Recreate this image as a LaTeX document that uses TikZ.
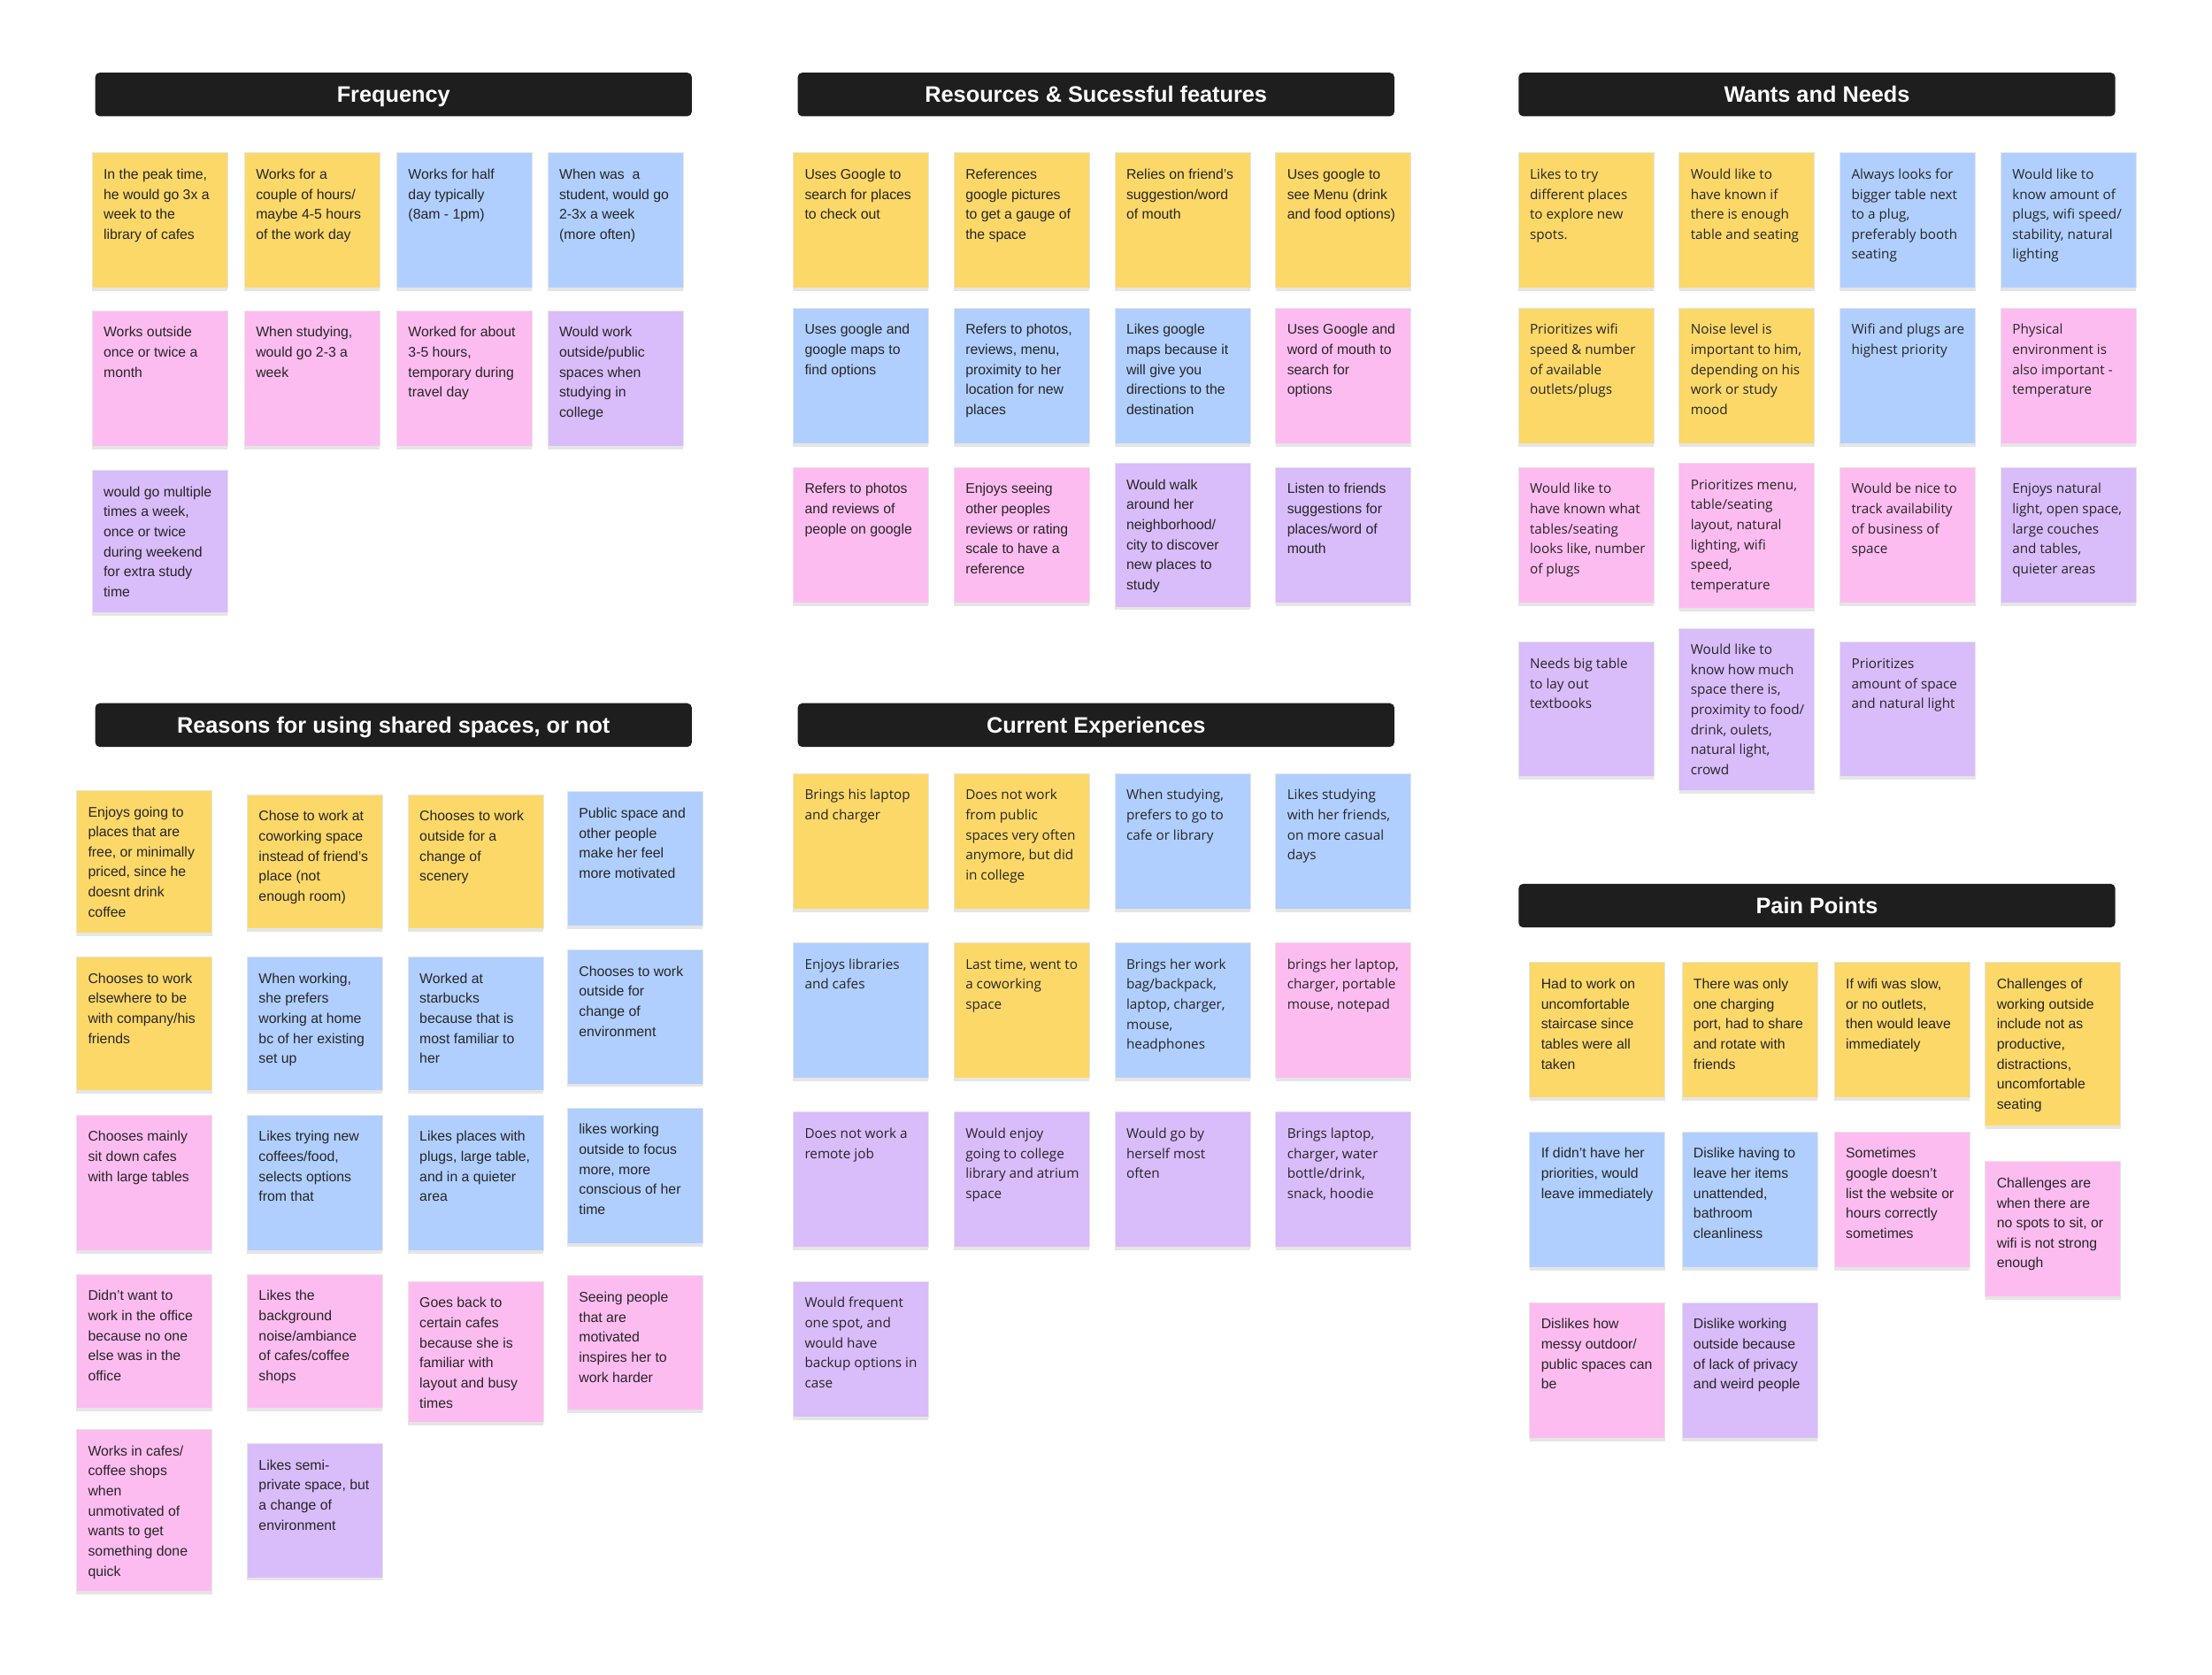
\documentclass[tikz,border=0pt]{standalone}
\usepackage{fontspec}
\setmainfont{Liberation Sans}
\newfontfamily\wfont{Open Sans}
\usetikzlibrary{shadows}
\definecolor{yel}{RGB}{252,216,105}
\definecolor{blu}{RGB}{176,207,254}
\definecolor{pnk}{RGB}{253,188,240}
\definecolor{pur}{RGB}{217,188,250}
\definecolor{hdrc}{RGB}{30,30,30}
\newcommand\pxu{0.015944cm}
\newcommand\stkf{\fontsize{4.5}{6.44}\selectfont}
\newcommand\hdrf{\fontsize{7.2}{8}\selectfont\bfseries}
\tikzset{
  stkbox/.style={anchor=north west, inner sep=0pt, minimum width=96*\pxu, draw=black!10, line width=0.2pt,
    drop shadow={shadow xshift=0pt, shadow yshift=-1.0pt, opacity=0.10, fill=black}},
  stktext/.style={anchor=north west, inner sep=0pt, align=left, text=black!85, font=\stkf},
  hdrbox/.style={anchor=north west, fill=hdrc, rounded corners=1.5pt, minimum width=423*\pxu, minimum height=31*\pxu,
    inner sep=0pt, text=white, font=\hdrf, text height=5.9pt, text depth=1.0pt}
}
\newcommand\stk[6]{%
  \node[stkbox, fill=#5, minimum height=#4*\pxu] (#1) at (#2,#3) {};
  \node[stktext] (#1t) at ([xshift=8*\pxu, yshift=-11*\pxu]#1.north west) {\rule{0pt}{3.4pt}#6};}
\begin{document}
\begin{tikzpicture}[x=\pxu, y=-\pxu]
\useasboundingbox[fill=white] (0,0) rectangle (1568,1187);

% Headers
\node[hdrbox] (hfreq) at (67,51) {Frequency};
\node[hdrbox] (hres) at (565,51) {Resources \& Sucessful features};
\node[hdrbox] (hwant) at (1076,51) {Wants and Needs};
\node[hdrbox] (hreas) at (67,498) {Reasons for using shared spaces, or not};
\node[hdrbox] (hcur) at (565,498) {Current Experiences};
\node[hdrbox] (hpain) at (1076,626) {Pain Points};

% Frequency
\stk{f1}{65}{108}{96}{yel}{In the peak time,\\he would go 3x a\\week to the\\library of cafes}
\stk{f2}{173}{108}{96}{yel}{Works for a\\couple of hours/\\maybe 4-5 hours\\of the work day}
\stk{f3}{281}{108}{96}{blu}{Works for half\\day typically\\(8am - 1pm)}
\stk{f4}{388}{108}{96}{blu}{When was \ a\\student, would go\\2-3x a week\\(more often)}
\stk{f5}{65}{220}{96}{pnk}{Works outside\\once or twice a\\month}
\stk{f6}{173}{220}{96}{pnk}{When studying,\\would go 2-3 a\\week}
\stk{f7}{281}{220}{96}{pnk}{Worked for about\\3-5 hours,\\temporary during\\travel day}
\stk{f8}{388}{220}{96}{pur}{Would work\\outside/public\\spaces when\\studying in\\college}
\stk{f9}{65}{333}{101}{pur}{would go multiple\\times a week,\\once or twice\\during weekend\\for extra study\\time}

% Resources
\stk{r1}{562}{108}{96}{yel}{Uses Google to\\search for places\\to check out}
\stk{r2}{676}{108}{96}{yel}{References\\google pictures\\to get a gauge of\\the space}
\stk{r3}{790}{108}{96}{yel}{Relies on friend’s\\suggestion/word\\of mouth}
\stk{r4}{904}{108}{96}{yel}{Uses google to\\see Menu (drink\\and food options)}
\stk{r5}{562}{218}{96}{blu}{Uses google and\\google maps to\\find options}
\stk{r6}{676}{218}{96}{blu}{Refers to photos,\\reviews, menu,\\proximity to her\\location for new\\places}
\stk{r7}{790}{218}{96}{blu}{Likes google\\maps because it\\will give you\\directions to the\\destination}
\stk{r8}{904}{218}{96}{pnk}{Uses Google and\\word of mouth to\\search for\\options}
\stk{r9}{562}{331}{96}{pnk}{Refers to photos\\and reviews of\\people on google}
\stk{r10}{676}{331}{96}{pnk}{Enjoys seeing\\other peoples\\reviews or rating\\scale to have a\\reference}
\stk{r11}{790}{328}{102}{pur}{Would walk\\around her\\neighborhood/\\city to discover\\new places to\\study}
\stk{r12}{904}{331}{96}{pur}{Listen to friends\\suggestions for\\places/word of\\mouth}

% Reasons
\stk{s1}{54}{560}{101}{yel}{Enjoys going to\\places that are\\free, or minimally\\priced, since he\\doesnt drink\\coffee}
\stk{s2}{175}{563}{95}{yel}{Chose to work at\\coworking space\\instead of friend’s\\place (not\\enough room)}
\stk{s3}{289}{563}{95}{yel}{Chooses to work\\outside for a\\change of\\scenery}
\stk{s4}{402}{561}{95}{blu}{Public space and\\other people\\make her feel\\more motivated}
\stk{s5}{54}{678}{95}{yel}{Chooses to work\\elsewhere to be\\with company/his\\friends}
\stk{s6}{175}{678}{95}{blu}{When working,\\she prefers\\working at home\\bc of her existing\\set up}
\stk{s7}{289}{678}{95}{blu}{Worked at\\starbucks\\because that is\\most familiar to\\her}
\stk{s8}{402}{673}{95}{blu}{Chooses to work\\outside for\\change of\\environment}
\stk{s9}{54}{790}{96}{pnk}{Chooses mainly\\sit down cafes\\with large tables}
\stk{s10}{175}{790}{96}{blu}{Likes trying new\\coffees/food,\\selects options\\from that}
\stk{s11}{289}{790}{96}{blu}{Likes places with\\plugs, large table,\\and in a quieter\\area}
\stk{s12}{402}{785}{96}{blu}{likes working\\outside to focus\\more, more\\conscious of her\\time}
\stk{s13}{54}{903}{95}{pnk}{Didn’t want to\\work in the office\\because no one\\else was in the\\office}
\stk{s14}{175}{903}{95}{pnk}{Likes the\\background\\noise/ambiance\\of cafes/coffee\\shops}
\stk{s15}{289}{908}{100}{pnk}{Goes back to\\certain cafes\\because she is\\familiar with\\layout and busy\\times}
\stk{s16}{402}{904}{95}{pnk}{Seeing people\\that are\\motivated\\inspires her to\\work harder}
\stk{s17}{54}{1013}{115}{pnk}{Works in cafes/\\coffee shops\\when\\unmotivated of\\wants to get\\something done\\quick}
\stk{s18}{175}{1023}{95}{pur}{Likes semi-\\private space, but\\a change of\\environment}

% Pain points
\stk{p1}{1084}{682}{96}{yel}{Had to work on\\uncomfortable\\staircase since\\tables were all\\taken}
\stk{p2}{1192}{682}{96}{yel}{There was only\\one charging\\port, had to share\\and rotate with\\friends}
\stk{p3}{1300}{682}{96}{yel}{If wifi was slow,\\or no outlets,\\then would leave\\immediately}
\stk{p4}{1407}{682}{116}{yel}{Challenges of\\working outside\\include not as\\productive,\\distractions,\\uncomfortable\\seating}
\stk{p5}{1084}{802}{96}{blu}{If didn’t have her\\priorities, would\\leave immediately}
\stk{p6}{1192}{802}{96}{blu}{Dislike having to\\leave her items\\unattended,\\bathroom\\cleanliness}
\stk{p7}{1300}{802}{96}{pnk}{Sometimes\\google doesn’t\\list the website or\\hours correctly\\sometimes}
\stk{p8}{1407}{823}{96}{pnk}{Challenges are\\when there are\\no spots to sit, or\\wifi is not strong\\enough}
\stk{p9}{1084}{923}{96}{pnk}{Dislikes how\\messy outdoor/\\public spaces can\\be}
\stk{p10}{1192}{923}{96}{pur}{Dislike working\\outside because\\of lack of privacy\\and weird people}

% Wants and Needs, Current Experiences (wider font)
\renewcommand\stkf{\wfont\fontsize{4.35}{6.44}\selectfont}
\stk{w1}{1076}{108}{96}{yel}{Likes to try\\different places\\to explore new\\spots.}
\stk{w2}{1190}{108}{96}{yel}{Would like to\\have known if\\there is enough\\table and seating}
\stk{w3}{1304}{108}{96}{blu}{Always looks for\\bigger table next\\to a plug,\\preferably booth\\seating}
\stk{w4}{1418}{108}{96}{blu}{Would like to\\know amount of\\plugs, wifi speed/\\stability, natural\\lighting}
\stk{w5}{1076}{218}{96}{yel}{Prioritizes wifi\\speed \& number\\of available\\outlets/plugs}
\stk{w6}{1190}{218}{96}{yel}{Noise level is\\important to him,\\depending on his\\work or study\\mood}
\stk{w7}{1304}{218}{96}{blu}{Wifi and plugs are\\highest priority}
\stk{w8}{1418}{218}{96}{pnk}{Physical\\environment is\\also important -\\temperature}
\stk{w9}{1076}{331}{96}{pnk}{Would like to\\have known what\\tables/seating\\looks like, number\\of plugs}
\stk{w10}{1190}{328}{103}{pnk}{Prioritizes menu,\\table/seating\\layout, natural\\lighting, wifi\\speed,\\temperature}
\stk{w11}{1304}{331}{96}{pnk}{Would be nice to\\track availability\\of business of\\space}
\stk{w12}{1418}{331}{96}{pur}{Enjoys natural\\light, open space,\\large couches\\and tables,\\quieter areas}
\stk{w13}{1076}{455}{95}{pur}{Needs big table\\to lay out\\textbooks}
\stk{w14}{1190}{445}{115}{pur}{Would like to\\know how much\\space there is,\\proximity to food/\\drink, oulets,\\natural light,\\crowd}
\stk{w15}{1304}{455}{95}{pur}{Prioritizes\\amount of space\\and natural light}

\stk{c1}{562}{548}{96}{yel}{Brings his laptop\\and charger}
\stk{c2}{676}{548}{96}{yel}{Does not work\\from public\\spaces very often\\anymore, but did\\in college}
\stk{c3}{790}{548}{96}{blu}{When studying,\\prefers to go to\\cafe or library}
\stk{c4}{904}{548}{96}{blu}{Likes studying\\with her friends,\\on more casual\\days}
\stk{c5}{562}{668}{96}{blu}{Enjoys libraries\\and cafes}
\stk{c6}{676}{668}{96}{yel}{Last time, went to\\a coworking\\space}
\stk{c7}{790}{668}{96}{blu}{Brings her work\\bag/backpack,\\laptop, charger,\\mouse,\\headphones}
\stk{c8}{904}{668}{96}{pnk}{brings her laptop,\\charger, portable\\mouse, notepad}
\stk{c9}{562}{788}{96}{pur}{Does not work a\\remote job}
\stk{c10}{676}{788}{96}{pur}{Would enjoy\\going to college\\library and atrium\\space}
\stk{c11}{790}{788}{96}{pur}{Would go by\\herself most\\often}
\stk{c12}{904}{788}{96}{pur}{Brings laptop,\\charger, water\\bottle/drink,\\snack, hoodie}
\stk{c13}{562}{908}{96}{pur}{Would frequent\\one spot, and\\would have\\backup options in\\case}
\end{tikzpicture}
\end{document}
